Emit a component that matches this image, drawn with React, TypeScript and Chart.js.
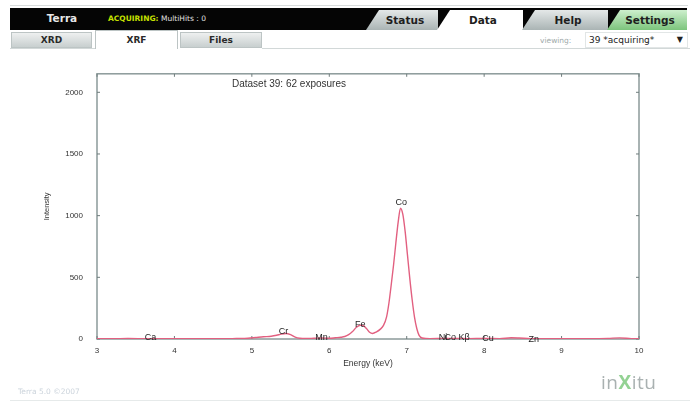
import React, { useEffect, useRef } from "react";
import { Chart, registerables } from "chart.js";

Chart.register(...registerables);

// ---- data ----
const energies = [
  3.0, 3.2, 3.4, 3.6, 3.8, 4.0, 4.2, 4.4, 4.6, 4.8, 4.95, 5.05, 5.15, 5.25, 5.32, 5.38, 5.44, 5.5, 5.56, 5.62,
  5.7, 5.8, 5.9, 6.0, 6.08, 6.15, 6.2, 6.25, 6.3, 6.35, 6.4, 6.44, 6.48, 6.52, 6.56, 6.61, 6.66, 6.7, 6.74,
  6.77, 6.8, 6.83, 6.86, 6.89, 6.92, 6.95, 6.98, 7.01, 7.04, 7.07, 7.1, 7.13, 7.16, 7.2, 7.3, 7.45, 7.6, 7.8,
  8.0, 8.2, 8.35, 8.45, 8.6, 8.8, 9.0, 9.2, 9.4, 9.6, 9.75, 9.9, 10.0,
];
const intensities = [
  3, 2, 4, 3, 2, 3, 2, 3, 2, 4, 6, 12, 18, 22, 30, 40, 45, 35, 15, 6,
  4, 6, 8, 6, 10, 14, 20, 35, 60, 95, 112, 108, 85, 55, 45, 58, 80, 110, 180,
  290, 440, 600, 780, 950, 1060, 1010, 870, 680, 490, 320, 180, 85, 30, 8, 3, 4, 5, 3,
  4, 3, 10, 8, 3, 2, 3, 2, 3, 5, 9, 3, 2,
];
const elementNames = ["Ca", "Cr", "Mn", "Fe", "Co", "Ni", "Co Kβ", "Cu", "Zn"];
const elementEnergies = [3.69, 5.41, 5.9, 6.4, 6.93, 7.47, 7.65, 8.05, 8.64];
const elementLabelIntensity = [12, 60, 8, 120, 1110, 8, 8, 4, -6];
const xTickValues = [3, 4, 5, 6, 7, 8, 9, 10];
const yTickValues = [0, 500, 1000, 1500, 2000];
const datasetCaption = "Dataset 39: 62 exposures";
const xTitle = "Energy (keV)";
const yTitle = "Intensity";
const xMin = 3;
const xMax = 10;
const yMin = 0;
const yMax = 2150;

const CHART_FONT = "'Liberation Sans', Arial, sans-serif";
const UI_FONT = "'DejaVu Sans', Verdana, sans-serif";
const FRAME = "#8c9a9a";

const framePlugin = {
  id: "frameAndLabels",
  beforeDatasetsDraw(chart: any) {
    const { ctx, chartArea: a, scales } = chart;
    ctx.save();
    ctx.strokeStyle = FRAME;
    ctx.lineWidth = 1.5;
    ctx.strokeRect(a.left, a.top, a.right - a.left, a.bottom - a.top);
    ctx.lineWidth = 1;
    ctx.strokeStyle = "#6f7c7c";
    const tl = 3;
    scales.x.ticks.forEach((t: any) => {
      const px = scales.x.getPixelForValue(t.value);
      ctx.beginPath();
      ctx.moveTo(px, a.bottom);
      ctx.lineTo(px, a.bottom - tl);
      ctx.moveTo(px, a.top);
      ctx.lineTo(px, a.top + tl);
      ctx.stroke();
    });
    scales.y.ticks.forEach((t: any) => {
      const py = scales.y.getPixelForValue(t.value);
      ctx.beginPath();
      ctx.moveTo(a.left, py);
      ctx.lineTo(a.left + tl, py);
      ctx.moveTo(a.right, py);
      ctx.lineTo(a.right - tl, py);
      ctx.stroke();
    });
    ctx.restore();
  },
  afterDatasetsDraw(chart: any) {
    const { ctx, chartArea: a, scales } = chart;
    ctx.save();
    ctx.fillStyle = "#1e1e1e";
    ctx.font = `9px ${CHART_FONT}`;
    ctx.textAlign = "center";
    ctx.textBaseline = "middle";
    elementNames.forEach((n, i) => {
      const px = scales.x.getPixelForValue(elementEnergies[i]);
      const py = scales.y.getPixelForValue(elementLabelIntensity[i]);
      ctx.fillText(n, px, py);
    });
    ctx.font = `10px ${CHART_FONT}`;
    ctx.textAlign = "left";
    ctx.fillStyle = "#333";
    ctx.fillText(datasetCaption, a.left + 135, a.top + 10);
    ctx.restore();
  },
};

function ChartCanvas() {
  const ref = useRef<HTMLCanvasElement | null>(null);
  useEffect(() => {
    if (!ref.current) return;
    const chart = new Chart(ref.current, {
      type: "line",
      data: {
        datasets: [
          {
            data: energies.map((e, i) => ({ x: e, y: intensities[i] })),
            borderColor: "rgb(226,96,128)",
            borderWidth: 1.4,
            pointRadius: 0,
            tension: 0.3,
            cubicInterpolationMode: "monotone",
            fill: false,
          },
        ],
      },
      options: {
        animation: false,
        responsive: false,
        devicePixelRatio: 1,
        layout: { padding: { left: 0, right: 54, top: 17, bottom: 0 } },
        plugins: { legend: { display: false }, tooltip: { enabled: false }, title: { display: false } },
        scales: {
          x: {
            type: "linear",
            min: xMin,
            max: xMax,
            afterBuildTicks: (s: any) => {
              s.ticks = xTickValues.map((v) => ({ value: v }));
            },
            ticks: {
              autoSkip: false,
              callback: (v: any) => String(v),
              font: { size: 8, family: CHART_FONT },
              color: "#333",
              padding: 7,
              maxRotation: 0,
            },
            grid: { display: false, drawTicks: false },
            border: { display: false },
            title: {
              display: true,
              text: xTitle,
              font: { size: 8.5, family: CHART_FONT },
              color: "#333",
              padding: { top: 0, bottom: 34 },
            },
            afterFit: (s: any) => {
              s.height = 64;
            },
          },
          y: {
            type: "linear",
            min: yMin,
            max: yMax,
            afterBuildTicks: (s: any) => {
              s.ticks = yTickValues.map((v) => ({ value: v }));
            },
            ticks: {
              autoSkip: false,
              callback: (v: any) => String(v),
              font: { size: 8, family: CHART_FONT },
              color: "#333",
              padding: 14,
            },
            grid: { display: false, drawTicks: false },
            border: { display: false },
            title: {
              display: true,
              text: yTitle,
              font: { size: 7.5, family: CHART_FONT },
              color: "#333",
              padding: { top: 42, bottom: 0 },
            },
            afterFit: (s: any) => {
              s.width = 97;
            },
          },
        },
      } as any,
      plugins: [framePlugin],
    });
    return () => chart.destroy();
  }, []);
  return <canvas ref={ref} width={693} height={348} style={{ width: 693, height: 348, display: "block" }} />;
}

const greyTab = "linear-gradient(#e4e8e8, #aab4b4)";
const slant = "polygon(13px 0, 100% 0, 100% 100%, 0 100%)";

function TopTab(props: { left: number; width: number; label: string; bg: string }) {
  return (
    <div
      style={{
        position: "absolute",
        left: props.left,
        top: 10,
        width: props.width,
        height: 20,
        background: props.bg,
        clipPath: slant,
        display: "flex",
        alignItems: "center",
        justifyContent: "center",
        fontFamily: UI_FONT,
        fontWeight: "bold",
        fontSize: 10.5,
        color: "#1e1e1e",
        paddingLeft: 6,
        boxSizing: "border-box",
      }}
    >
      {props.label}
    </div>
  );
}

function SubTab(props: { left: number; width: number; label: string; active?: boolean }) {
  const a = props.active;
  return (
    <div
      style={{
        position: "absolute",
        left: props.left,
        top: a ? 30 : 32,
        width: props.width,
        height: a ? 19 : 16,
        background: a ? "#fff" : "linear-gradient(#eef0f0, #c8cfcf)",
        border: "1px solid #bcc4c4",
        borderBottom: a ? "none" : "1px solid #bcc4c4",
        boxSizing: "border-box",
        display: "flex",
        alignItems: "center",
        justifyContent: "center",
        fontFamily: UI_FONT,
        fontWeight: "bold",
        fontSize: 9,
        color: "#2a2a2a",
      }}
    >
      {props.label}
    </div>
  );
}

export default function App() {
  return (
    <div
      style={{
        position: "fixed",
        left: 0,
        top: 0,
        width: 693,
        height: 403,
        background: "#fff",
        overflow: "hidden",
      }}
    >
      <div style={{ position: "absolute", left: 10, top: 5, width: 678, height: 1, background: "#d8dcdc" }} />
      <div style={{ position: "absolute", left: 10, top: 8, width: 677, height: 22, background: "#050505" }} />
      <div
        style={{
          position: "absolute",
          left: 42,
          top: 12,
          width: 40,
          textAlign: "center",
          fontFamily: UI_FONT,
          fontWeight: "bold",
          fontSize: 10.5,
          color: "#e8e8e8",
        }}
      >
        Terra
      </div>
      <div
        style={{
          position: "absolute",
          left: 108,
          top: 14,
          fontFamily: UI_FONT,
          fontSize: 7.5,
          color: "#e0e0e0",
          whiteSpace: "nowrap",
        }}
      >
        <span style={{ color: "#c6e000", fontWeight: "bold" }}>ACQUIRING:</span> MultiHits : 0
      </div>
      <TopTab left={366} width={72} label="Status" bg={greyTab} />
      <TopTab left={437} width={86} label="Data" bg="#ffffff" />
      <TopTab left={522} width={86} label="Help" bg={greyTab} />
      <TopTab left={607} width={80} label="Settings" bg="linear-gradient(#cdefcd, #7cc47c)" />

      <div style={{ position: "absolute", left: 262, top: 48, width: 428, height: 1, background: "#d2d8d8" }} />
      <div style={{ position: "absolute", left: 10, top: 48, width: 86, height: 1, background: "#d2d8d8" }} />
      <SubTab left={11} width={81} label="XRD" />
      <SubTab left={95} width={83} label="XRF" active />
      <SubTab left={180} width={82} label="Files" />
      <div
        style={{
          position: "absolute",
          left: 540,
          top: 36,
          fontFamily: UI_FONT,
          fontSize: 7.5,
          color: "#a0aaaa",
        }}
      >
        viewing:
      </div>
      <div
        style={{
          position: "absolute",
          left: 585,
          top: 32,
          width: 103,
          height: 16,
          border: "1px solid #e2e6e6",
          boxSizing: "border-box",
          fontFamily: UI_FONT,
          fontSize: 9,
          color: "#222",
          lineHeight: "14px",
          paddingLeft: 3,
          whiteSpace: "nowrap",
        }}
      >
        39 *acquiring*
        <span style={{ position: "absolute", right: 4, top: 0, fontSize: 8 }}>▼</span>
      </div>

      <div style={{ position: "absolute", left: 0, top: 55, width: 693, height: 348 }}>
        <ChartCanvas />
      </div>

      <div
        style={{
          position: "absolute",
          left: 18,
          top: 387,
          fontFamily: UI_FONT,
          fontSize: 7.5,
          color: "#ccd4dc",
          whiteSpace: "nowrap",
        }}
      >
        Terra 5.0 ©2007
      </div>
      <div style={{ position: "absolute", left: 10, top: 400, width: 680, height: 1, background: "#e6eaea" }} />
      <div
        style={{
          position: "absolute",
          left: 601,
          top: 369,
          fontFamily: "'Open Sans', 'DejaVu Sans', sans-serif",
          fontSize: 19,
          color: "#a9b1b1",
          whiteSpace: "nowrap",
          letterSpacing: 0.5,
        }}
      >
        in<span style={{ color: "#93d293", fontWeight: "bold" }}>X</span>itu
      </div>
    </div>
  );
}
